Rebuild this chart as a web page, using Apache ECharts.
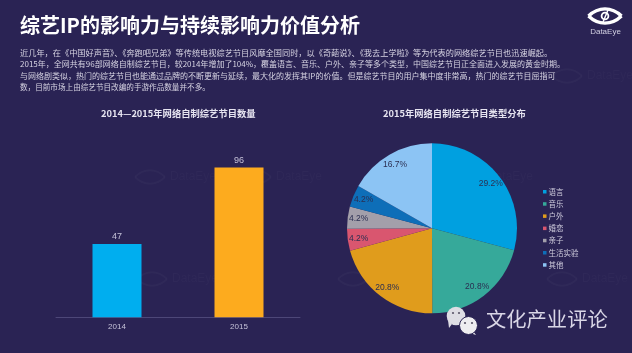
<!DOCTYPE html>
<html>
<head>
<meta charset="utf-8">
<style>
  html, body { margin: 0; padding: 0; background: #2a2354; }
  #main { width: 632px; height: 353px; }
</style>
<script src="https://cdn.jsdelivr.net/npm/echarts@6/dist/echarts.min.js"></script>
</head>
<body>
<div id="main"></div>
<script>
  var years = ['2014', '2015'];
  var yearCounts = [47, 96];
  var yearColors = ['#00aeef', '#fdab1e'];

  var typeNames = ['语言', '音乐', '户外', '婚恋', '亲子', '生活实验', '其他'];
  var typeShares = [29.2, 20.8, 20.8, 4.2, 4.2, 4.2, 16.7];
  var typeColors = ['#00a0e0', '#36a99a', '#e09c1c', '#d9566f', '#a39faa', '#0e6eb8', '#8cc4f4'];

  var bodyLines = [
    '近几年，在《中国好声音》、《奔跑吧兄弟》等传统电视综艺节目风靡全国同时，以《奇葩说》、《我去上学啦》等为代表的网络综艺节目也迅速崛起。',
    '2015年，全网共有96部网络自制综艺节目，较2014年增加了104%，覆盖语言、音乐、户外、亲子等多个类型，中国综艺节目正全面进入发展的黄金时期。',
    '与网络剧类似，热门的综艺节目也能通过品牌的不断更新与延续，最大化的发挥其IP的价值。但是综艺节目的用户集中度非常高，热门的综艺节目屈指可',
    '数，目前市场上由综艺节目改编的手游作品数量并不多。'
  ];
  var bodyLineY = [53, 63.5, 76, 87];
  var bodyLineSize = [8.2, 8, 8, 7.6];
  var watermarks = [[150, 177], [256, 177], [467, 177], [152, 279], [353, 279], [562, 279], [567, 76]];

  var cjk = '"Noto Sans CJK SC", sans-serif';
  var latin = '"Liberation Sans", "Noto Sans CJK SC", sans-serif';
  var bg = '#2a2354';

  var chart = echarts.init(document.getElementById('main'));
  var graphics = [];

  // 眼睛轮廓，上下两条曲线
  function eye(cx, cy, halfW, lift, color, width) {
    [-1, 1].forEach(function (dir) {
      graphics.push({
        type: 'bezierCurve', silent: true,
        shape: { x1: cx - halfW, y1: cy, x2: cx + halfW, y2: cy, cpx1: cx - halfW * 0.4, cpy1: cy + dir * lift, cpx2: cx + halfW * 0.4, cpy2: cy + dir * lift },
        style: { fill: null, stroke: color, lineWidth: width }
      });
    });
  }

  // 水印
  watermarks.forEach(function (p) {
    eye(p[0], p[1], 15, 9, 'rgba(255,255,255,0.028)', 2);
    graphics.push({
      type: 'text', silent: true, x: p[0] + 20, y: p[1] - 6,
      style: { text: 'DataEye', fill: 'rgba(255,255,255,0.025)', font: '12px ' + latin }
    });
  });

  // 正文
  bodyLines.forEach(function (line, i) {
    graphics.push({
      type: 'text', silent: true, x: 20, y: bodyLineY[i],
      style: { text: line, fill: '#d6d3e2', font: bodyLineSize[i] + 'px ' + cjk, verticalAlign: 'middle' }
    });
  });

  // logo
  eye(605, 16, 16.5, 9.5, '#ffffff', 3.4);
  graphics.push({ type: 'circle', silent: true, shape: { cx: 605, cy: 16, r: 3.4 }, style: { fill: null, stroke: '#ffffff', lineWidth: 1.8 } });
  graphics.push({ type: 'line', silent: true, shape: { x1: 603, y1: 22, x2: 608, y2: 10 }, style: { stroke: '#ffffff', lineWidth: 1.4 } });
  graphics.push({
    type: 'text', silent: true, x: 605.5, y: 32,
    style: { text: 'DataEye', fill: '#d2d0e2', font: '8px ' + latin, align: 'center', verticalAlign: 'middle' }
  });

  // 公众号
  graphics.push({ type: 'polygon', silent: true, z: 10, shape: { points: [[448, 320], [452, 324], [449, 328]] }, style: { fill: '#dedde4' } });
  graphics.push({ type: 'circle', silent: true, z: 10, shape: { cx: 456, cy: 316, r: 9.3 }, style: { fill: '#dedde4' } });
  graphics.push({ type: 'polygon', silent: true, z: 11, shape: { points: [[473, 331], [476, 335], [470, 333]] }, style: { fill: '#eeedf0' } });
  graphics.push({ type: 'circle', silent: true, z: 11, shape: { cx: 468.5, cy: 325.5, r: 9 }, style: { fill: '#eeedf0', stroke: bg, lineWidth: 1 } });
  [[453, 313], [459, 313]].forEach(function (p) {
    graphics.push({ type: 'circle', silent: true, z: 10, shape: { cx: p[0], cy: p[1], r: 1.1 }, style: { fill: '#5a5668' } });
  });
  [[465, 323], [472, 323]].forEach(function (p) {
    graphics.push({ type: 'circle', silent: true, z: 12, shape: { cx: p[0], cy: p[1], r: 1.1 }, style: { fill: '#5a5668' } });
  });
  graphics.push({
    type: 'text', silent: true, x: 486, y: 319.5, z: 10,
    style: { text: '文化产业评论', fill: '#d9d6e6', font: '20.3px ' + cjk, verticalAlign: 'middle' }
  });

  var option = {
    backgroundColor: bg,
    animation: false,
    title: [
      { text: '综艺IP的影响力与持续影响力价值分析', left: 20, top: 15, padding: 0, textStyle: { color: '#ffffff', fontSize: 20, fontWeight: 'bold', fontFamily: cjk } },
      { text: '2014—2015年网络自制综艺节目数量', left: 101, top: 109, padding: 0, textStyle: { color: '#e6e4f0', fontSize: 9.3, fontWeight: 'bold', fontFamily: cjk } },
      { text: '2015年网络自制综艺节目类型分布', left: 383, top: 109, padding: 0, textStyle: { color: '#e6e4f0', fontSize: 9.3, fontWeight: 'bold', fontFamily: cjk } }
    ],
    grid: { left: 56, top: 161.3, width: 244, height: 156, containLabel: false },
    xAxis: {
      type: 'category',
      data: years,
      axisTick: { show: false },
      axisLine: { lineStyle: { color: '#4d4778', width: 1 } },
      axisLabel: { color: '#c5c2d8', fontSize: 8, fontFamily: latin, margin: 5 }
    },
    yAxis: { type: 'value', min: 0, max: 100, show: false },
    legend: {
      orient: 'vertical',
      left: 543,
      top: 188,
      icon: 'rect',
      itemWidth: 3.5,
      itemHeight: 3.5,
      itemGap: 4.7,
      padding: 0,
      selectedMode: false,
      data: typeNames,
      textStyle: { color: '#cfccdd', fontSize: 7.5, fontFamily: cjk, padding: [0, 0, 0, -3] }
    },
    series: [
      {
        type: 'bar',
        barWidth: 49,
        data: yearCounts.map(function (v, i) {
          return { value: v, itemStyle: { color: yearColors[i] } };
        }),
        label: { show: true, position: 'top', distance: 3, color: '#c5c2d8', fontSize: 9, fontFamily: latin }
      },
      {
        type: 'pie',
        center: [432, 228.3],
        radius: [0, 85],
        startAngle: 90,
        silent: true,
        label: { show: false },
        labelLine: { show: false },
        data: typeNames.map(function (n, i) {
          return { name: n, value: typeShares[i], itemStyle: { color: typeColors[i] } };
        })
      },
      {
        // 透明圆环，只用来把百分比标签放到靠外的位置
        type: 'pie',
        center: [432, 228.3],
        radius: [57, 85],
        startAngle: 90,
        silent: true,
        itemStyle: { color: 'transparent' },
        label: { show: true, position: 'inside', formatter: '{c}%', color: '#2b2f52', fontSize: 8.5, fontFamily: latin },
        labelLine: { show: false },
        data: typeNames.map(function (n, i) {
          return { name: n, value: typeShares[i] };
        })
      }
    ],
    graphic: graphics
  };
  chart.setOption(option);
</script>
</body>
</html>
